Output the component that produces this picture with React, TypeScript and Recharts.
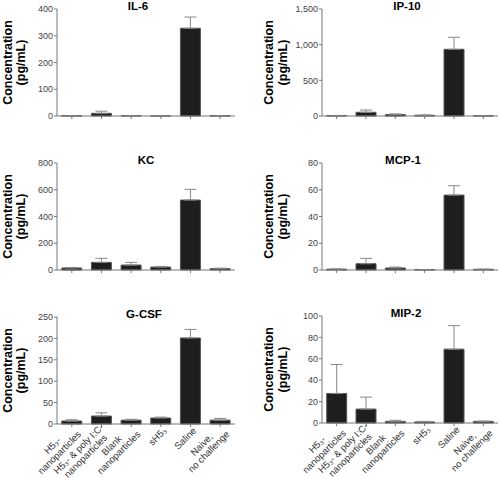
import React from "react";
import { BarChart, Bar, XAxis, YAxis, ErrorBar, Label } from "recharts";

// ---------- data ----------
const categories = [
  "H5₃-|nanoparticles",
  "H5₃- & poly I:C-|nanoparticles",
  "Blank|nanoparticles",
  "sH5₃",
  "Saline",
  "Naive,|no challenge",
];

const il6Values = [1, 10, 1, 0.5, 328, 1];
const il6Errors = [0.5, 8, 0.5, 0.3, 42, 0.5];
const il6Ticks = [0, 100, 200, 300, 400];

const ip10Values = [5, 52, 20, 10, 935, 3];
const ip10Errors = [3, 32, 10, 4, 168, 2];
const ip10Ticks = [0, 500, 1000, 1500];

const kcValues = [15, 57, 37, 22, 523, 10];
const kcErrors = [4, 30, 20, 5, 80, 4];
const kcTicks = [0, 200, 400, 600, 800];

const mcp1Values = [0.6, 4.7, 1.5, 0.3, 56, 0.5];
const mcp1Errors = [0.2, 4, 0.7, 0.1, 7, 0.2];
const mcp1Ticks = [0, 20, 40, 60, 80];

const gcsfValues = [7, 18.6, 9, 14, 201, 9];
const gcsfErrors = [3, 7.5, 2, 2, 20, 4];
const gcsfTicks = [0, 50, 100, 150, 200, 250];

const mip2Values = [27.6, 13, 1.5, 1, 69, 1.5];
const mip2Errors = [27, 11.2, 1, 0.5, 22, 0.3];
const mip2Ticks = [0, 20, 40, 60, 80, 100];

const yLabelLines = ["Concentration", "(pg/mL)"];

// ---------- styling / layout ----------
const FONT = '"Liberation Sans", Arial, Helvetica, sans-serif';
const AXIS = "#777";

let ctx: CanvasRenderingContext2D | null = null;
function measure(text: string, font: string): number {
  if (!ctx) ctx = document.createElement("canvas").getContext("2d");
  if (!ctx) return text.length * 5;
  ctx.font = font;
  return ctx.measureText(text).width;
}

const XTick = (props: any) => {
  const { x, y, payload, show } = props;
  if (!show) return <g />;
  const lines = String(payload.value).split("|");
  const fs = 9.5;
  const font = `${fs}px ${FONT}`;
  const widths = lines.map((l) => measure(l, font));
  const maxW = Math.max(...widths);
  const lh = fs * 1.05;
  const n = lines.length;
  return (
    <g transform={`translate(${x + 4},${y}) rotate(-45)`}>
      {lines.map((l, i) => (
        <text
          key={i}
          x={-maxW / 2}
          y={(i - (n - 1) / 2) * lh}
          dy="0.35em"
          textAnchor="middle"
          fontSize={fs}
          fontFamily={FONT}
          fill="#333"
        >
          {l}
        </text>
      ))}
    </g>
  );
};

type Cfg = {
  title: string;
  values: number[];
  errors: number[];
  ticks: number[];
  left: number;
  top: number;
  width: number;
  height: number;
  yw: number;
  mr: number;
  mt: number;
  xh: number;
  showLabels: boolean;
  titleDx: number;
  lab1: number;
  lab2: number;
};

const fmt = (v: number) => v.toLocaleString("en-US");

function Panel({ cfg }: { cfg: Cfg }) {
  const data = categories.map((c, i) => ({
    name: c,
    value: cfg.values[i],
    err: [0, cfg.errors[i]],
  }));
  const plotW = cfg.width - cfg.yw - cfg.mr;
  const max = cfg.ticks[cfg.ticks.length - 1];
  const renderLabel = (p: any) => {
    const vb = p.viewBox || {};
    const axisX = vb.x + vb.width;
    const cy = vb.y + vb.height / 2;
    const t1x = axisX - cfg.lab1;
    const t2x = axisX - cfg.lab2;
    return (
      <g>
        <text
          x={axisX + plotW / 2 + cfg.titleDx}
          y={vb.y + 1}
          textAnchor="middle"
          fontSize={11.5}
          fontWeight="bold"
          fontFamily={FONT}
          fill="#000"
        >
          {cfg.title}
        </text>
        <text
          transform={`translate(${t1x},${cy}) rotate(-90)`}
          textAnchor="middle"
          dy="0.35em"
          fontSize={12.5}
          fontWeight="bold"
          fontFamily={FONT}
          fill="#000"
        >
          {yLabelLines[0]}
        </text>
        <text
          transform={`translate(${t2x},${cy}) rotate(-90)`}
          textAnchor="middle"
          dy="0.35em"
          fontSize={12.5}
          fontWeight="bold"
          fontFamily={FONT}
          fill="#000"
        >
          {yLabelLines[1]}
        </text>
      </g>
    );
  };
  return (
    <div style={{ position: "absolute", left: cfg.left, top: cfg.top }}>
      <BarChart
        width={cfg.width}
        height={cfg.height}
        data={data}
        margin={{ top: cfg.mt, right: cfg.mr, left: 0, bottom: 0 }}
        barCategoryGap="16%"
      >
        <XAxis
          dataKey="name"
          height={cfg.xh}
          interval={0}
          tick={<XTick show={cfg.showLabels} />}
          tickLine={{ stroke: AXIS }}
          axisLine={{ stroke: AXIS }}
          tickSize={3}
        />
        <YAxis
          width={cfg.yw}
          domain={[0, max]}
          ticks={cfg.ticks}
          tickFormatter={fmt}
          interval={0}
          tick={{ fontSize: 9, fill: "#444", fontFamily: FONT }}
          tickLine={{ stroke: AXIS }}
          axisLine={{ stroke: AXIS }}
          tickSize={3}
          tickMargin={1}
        >
          <Label content={renderLabel} />
        </YAxis>
        <Bar dataKey="value" fill="#1e1e1e" stroke="#555" isAnimationActive={false}>
          <ErrorBar dataKey="err" width={6} stroke="#888" strokeWidth={1} direction="y" />
        </Bar>
      </BarChart>
    </div>
  );
}

const leftCol = { left: 0, width: 240, yw: 57, mr: 5, lab1: 49, lab2: 36.5 };
const rightCol = { left: 250, width: 250, yw: 72, mr: 2, lab1: 53.5, lab2: 39.5 };

const panels: Cfg[] = [
  { title: "IL-6", values: il6Values, errors: il6Errors, ticks: il6Ticks, ...leftCol, top: 0, height: 140, mt: 9, xh: 24, showLabels: false, titleDx: -8 },
  { title: "IP-10", values: ip10Values, errors: ip10Errors, ticks: ip10Ticks, ...rightCol, top: 0, height: 140, mt: 9, xh: 24, showLabels: false, titleDx: -3 },
  { title: "KC", values: kcValues, errors: kcErrors, ticks: kcTicks, ...leftCol, top: 140, height: 150, mt: 23, xh: 20, showLabels: false, titleDx: 0 },
  { title: "MCP-1", values: mcp1Values, errors: mcp1Errors, ticks: mcp1Ticks, ...rightCol, top: 140, height: 150, mt: 23, xh: 20, showLabels: false, titleDx: -7 },
  { title: "G-CSF", values: gcsfValues, errors: gcsfErrors, ticks: gcsfTicks, ...leftCol, top: 290, height: 188, mt: 27, xh: 54, showLabels: true, titleDx: -2 },
  { title: "MIP-2", values: mip2Values, errors: mip2Errors, ticks: mip2Ticks, ...rightCol, top: 290, height: 188, mt: 26, xh: 55, showLabels: true, titleDx: -4 },
];

export default function App() {
  return (
    <div
      style={{
        position: "absolute",
        left: 0,
        top: 0,
        width: 500,
        height: 478,
        background: "#fff",
        overflow: "hidden",
      }}
    >
      {panels.map((p) => (
        <Panel key={p.title} cfg={p} />
      ))}
    </div>
  );
}
